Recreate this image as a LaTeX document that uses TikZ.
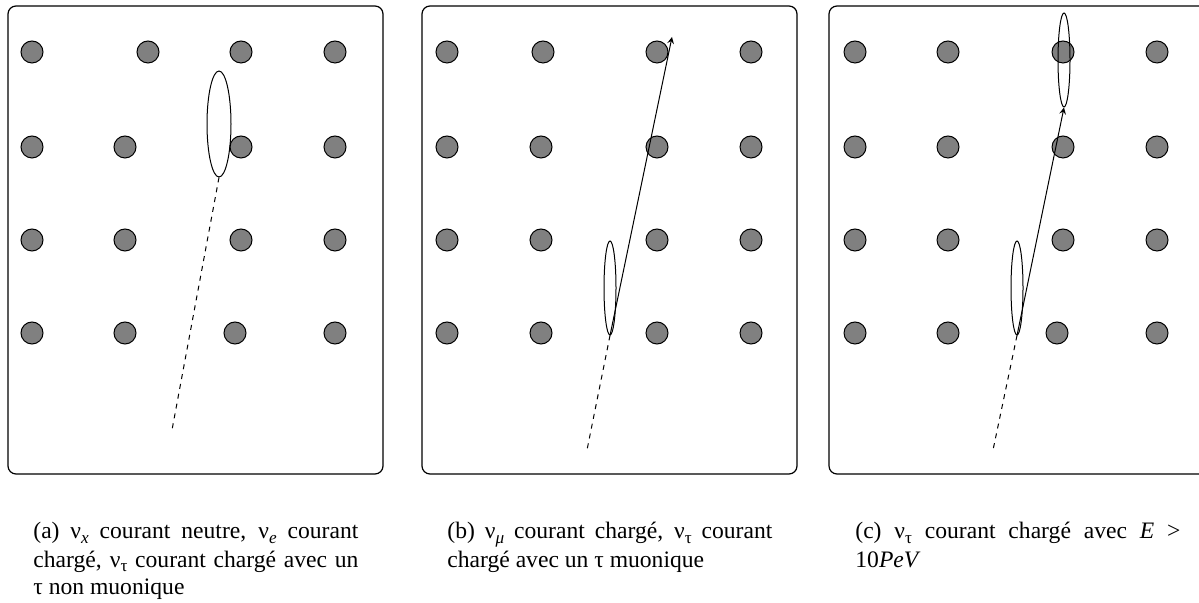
\documentclass[tikz,border=0pt]{standalone}
\usepackage{fontspec}
\setmainfont{Liberation Serif}
\usetikzlibrary{shapes.geometric}
\newcommand{\lowsub}[1]{\raisebox{-0.45ex}{\fontsize{8.6}{9}\selectfont #1}}
\begin{document}
\begin{tikzpicture}[x=0.5pt,y=-0.5pt,
  dot/.style={circle,draw=black,fill=black!50,line width=0.5pt,minimum size=11pt,inner sep=0pt},
  panel/.style={draw=black,line width=0.6pt,rounded corners=4pt},
  ell/.style={ellipse,draw=black,line width=0.5pt,inner sep=0pt,minimum width=#1},
  ell/.default=6pt,
  track/.style={line width=0.5pt,->,>=stealth},
  ghost/.style={line width=0.5pt,dash pattern=on 2.5pt off 2.5pt},
  captext/.style={anchor=base west,text width=162.5pt,align=justify,inner sep=0pt,font=\fontsize{11.8}{14}\selectfont}]
\useasboundingbox (0,0) rectangle (1199,603);
% panels
\draw[panel] (8,6) rectangle (383,474);
\draw[panel] (422,6) rectangle (797,474);
\draw[panel] (829,6) rectangle (1210,474);
% panel (a) dots
\foreach \n/\x/\y in {a11/32/52,a12/148/52,a13/241/52,a14/335/52,
  a21/32/147,a22/125/147,a23/241/147,a24/335/147,
  a31/32/240,a32/125/240,a33/241/240,a34/335/240,
  a41/32/333,a42/125/333,a43/235/333,a44/335/333}
  \node[dot] (\n) at (\x,\y) {};
% panel (b) dots
\foreach \n/\x/\y in {b11/447/52,b12/543/52,b13/657/52,b14/751/52,
  b21/447/147,b22/541/147,b23/657/147,b24/751/147,
  b31/447/240,b32/541/240,b33/657/240,b34/751/240,
  b41/447/333,b42/541/333,b43/657/333,b44/751/333}
  \node[dot] (\n) at (\x,\y) {};
% panel (c) dots
\foreach \n/\x/\y in {c11/855/52,c12/948/52,c13/1063/52,c14/1157/52,
  c21/855/147,c22/948/147,c23/1063/147,c24/1157/147,
  c31/855/240,c32/948/240,c33/1063/240,c34/1157/240,
  c41/855/333,c42/948/333,c43/1057/333,c44/1157/333}
  \node[dot] (\n) at (\x,\y) {};
% panel (a) event
\node[ell=12pt,minimum height=53pt] (ea) at (219,124) {};
\coordinate (sa) at (172,430);
\draw[ghost] (ea.south) -- (sa);
% panel (b) event
\node[ell=6pt,minimum height=47pt] (eb) at (610,288) {};
\coordinate (tb) at (672,37);
\coordinate (sb) at (587,450);
\draw[track] (eb.south) -- (tb);
\draw[ghost] (eb.south) -- (sb);
% panel (c) event
\node[ell=6pt,minimum height=47pt] (ec) at (1017,288) {};
\node[ell=6pt,minimum height=47pt] (ed) at (1064,60) {};
\coordinate (sc) at (993,450);
\draw[track] (ec.south) -- (ed.south);
\draw[ghost] (ec.south) -- (sc);
% captions
\node[captext] (capa) at (33,539) {(a) ν\lowsub{\itshape x} courant neutre, ν\lowsub{\itshape e} courant\linebreak chargé, ν\lowsub{τ} courant chargé avec un\linebreak τ non muonique};
\node[captext] (capb) at (447,539) {(b) ν\lowsub{\itshape μ} courant chargé, ν\lowsub{τ} courant\linebreak chargé avec un τ muonique};
\node[captext] (capc) at (855,539) {(c) ν\lowsub{τ} courant chargé avec \textit{E} >\linebreak 10\textit{PeV}};
\end{tikzpicture}
\end{document}
